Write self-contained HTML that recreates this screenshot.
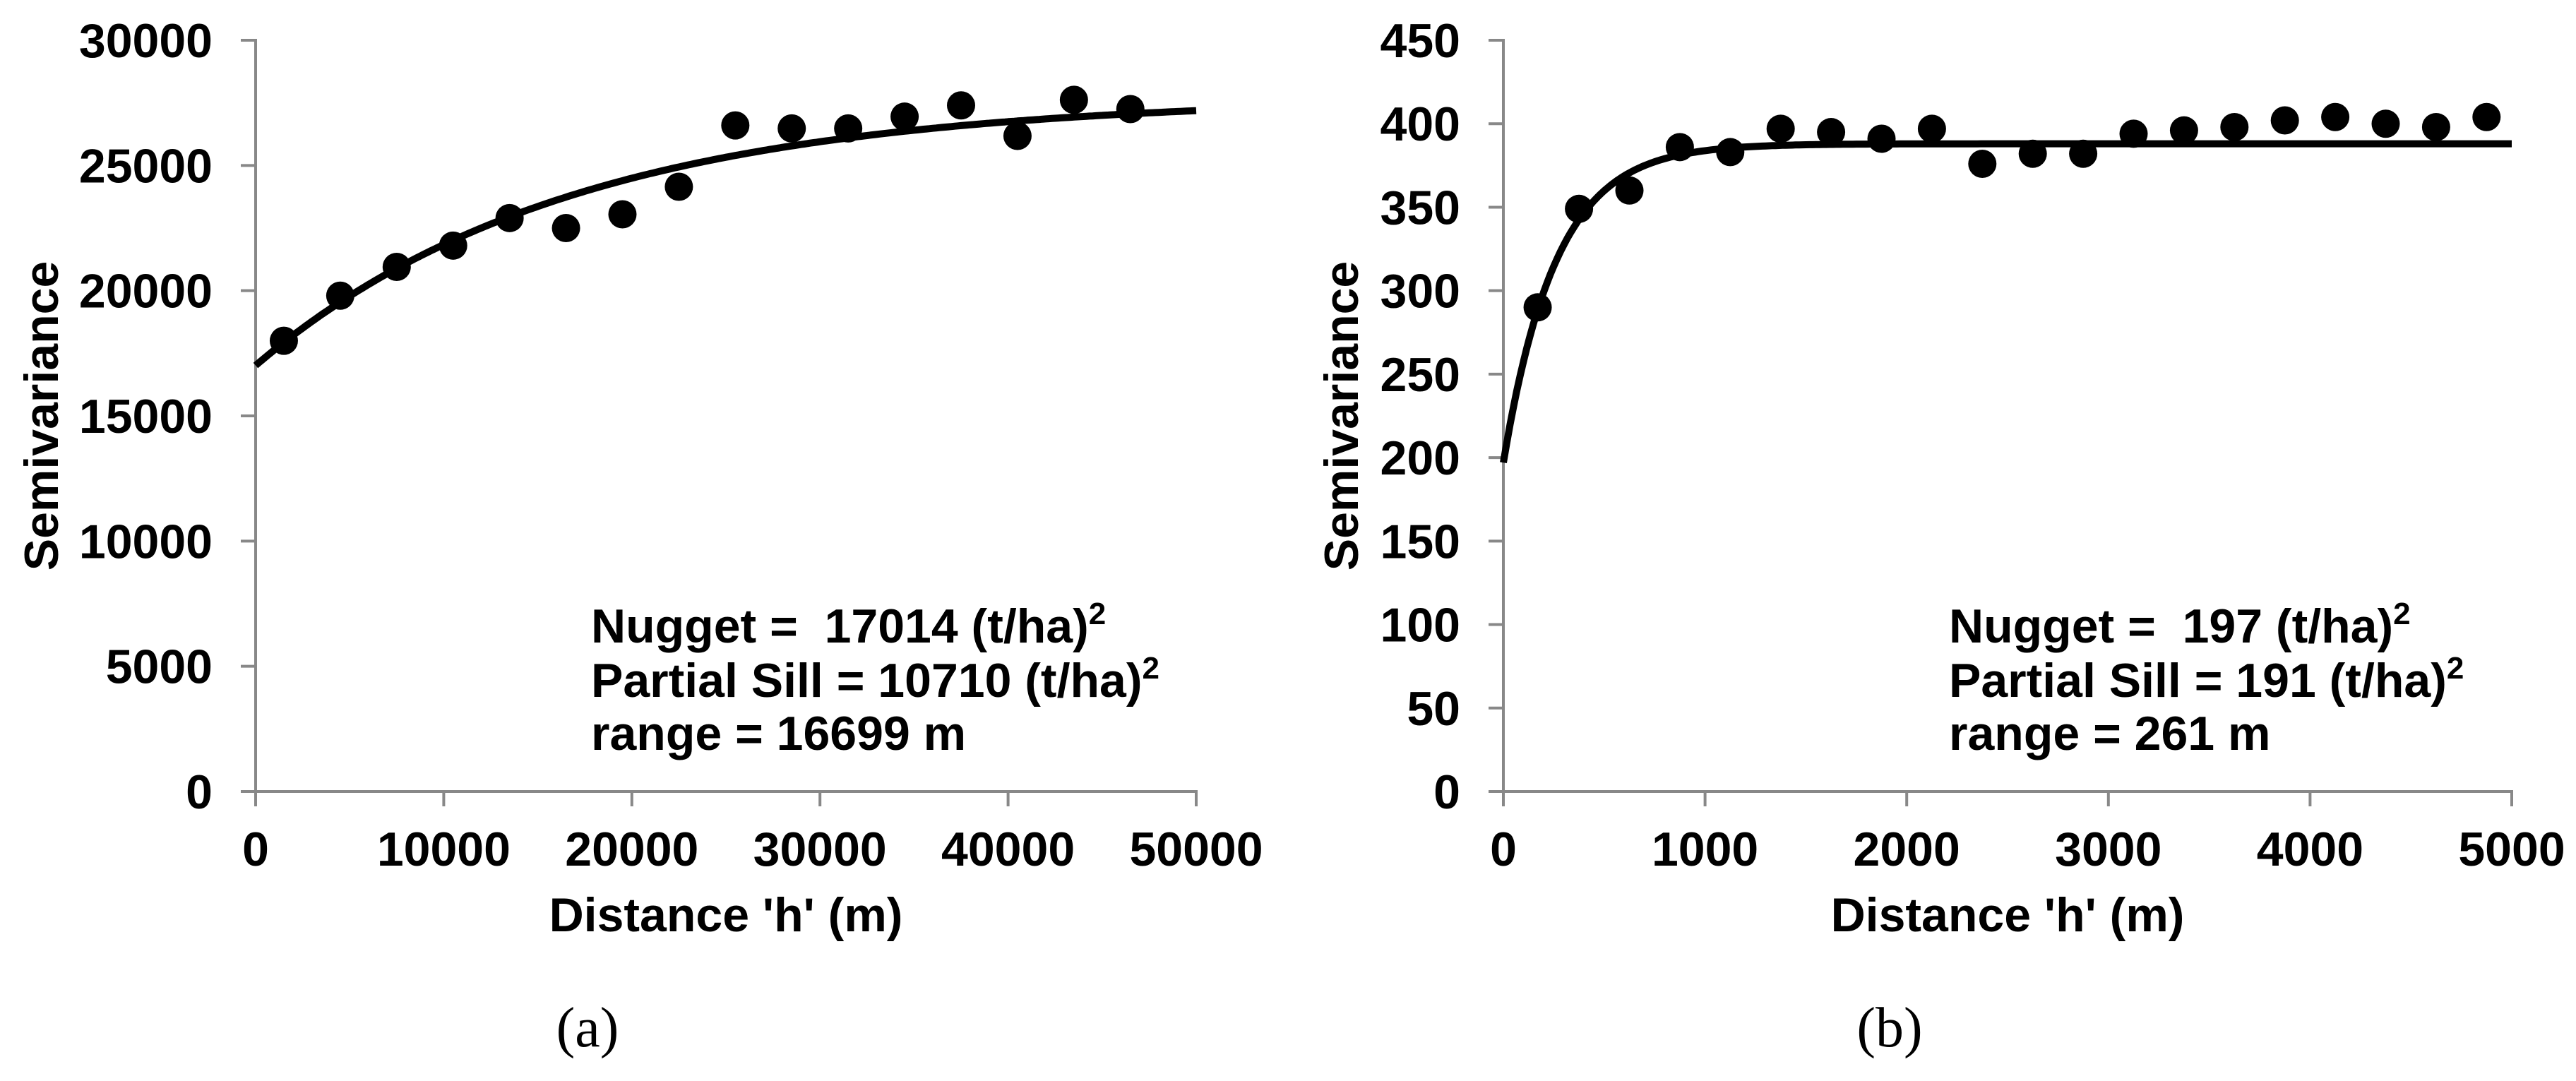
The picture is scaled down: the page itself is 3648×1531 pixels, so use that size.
<!DOCTYPE html>
<html>
<head>
<meta charset="utf-8">
<style>
  html,body{margin:0;padding:0;background:#fff;}
  svg{display:block;}
  text{font-family:"Liberation Sans",Arial,sans-serif;font-weight:bold;fill:#000;white-space:pre;}
  .serif{font-family:"Liberation Serif","Times New Roman",serif;font-weight:normal;}
</style>
</head>
<body>
<svg id="fig" width="3648" height="1531" viewBox="0 0 3648 1531" xmlns="http://www.w3.org/2000/svg">
  <rect x="0" y="0" width="3648" height="1531" fill="#fff"/>
</svg>
<script>
// ---- Chart (a) data ----
const aLags = [1500, 4500, 7500, 10500, 13500, 16500, 19500, 22500, 25500, 28500, 31500, 34500, 37500, 40500, 43500, 46500];
const aGamma = [18000, 19800, 20950, 21800, 22900, 22500, 23050, 24150, 26600, 26480, 26480, 26950, 27400, 26180, 27620, 27250];
const aYTicks = [0, 5000, 10000, 15000, 20000, 25000, 30000];
const aXTicks = [0, 10000, 20000, 30000, 40000, 50000];
const aModel = [17014, 10710, 16699]; // nugget, partial sill, range
// ---- Chart (b) data ----
const bLags = [170, 375, 625, 875, 1125, 1375, 1625, 1875, 2125, 2375, 2625, 2875, 3125, 3375, 3625, 3875, 4125, 4375, 4625, 4875];
const bGamma = [290, 349, 360, 386, 383, 397, 395, 391, 397, 376, 382, 382, 394, 396, 398, 402, 404, 400, 398, 404];
const bYTicks = [0, 50, 100, 150, 200, 250, 300, 350, 400, 450];
const bXTicks = [0, 1000, 2000, 3000, 4000, 5000];
const bModel = [197, 191, 261];

const NS = "http://www.w3.org/2000/svg";
const svg = document.getElementById("fig");
function mk(tag, attrs, parent) {
  const e = document.createElementNS(NS, tag);
  for (const k in attrs) e.setAttribute(k, attrs[k]);
  (parent || svg).appendChild(e);
  return e;
}

function drawChart(cfg) {
  const g = mk("g", {});
  
  
  const xMax = cfg.xTicks[cfg.xTicks.length - 1];
  const yMax = cfg.yTicks[cfg.yTicks.length - 1];
  const sx = v => cfg.x0 + (v / xMax) * (cfg.x1 - cfg.x0);
  const sy = v => cfg.y0 - (v / yMax) * (cfg.y0 - cfg.y1);
  const axisCol = "#888888";

  const ya = mk("line", {x1: cfg.x0, y1: cfg.y1 - 2, x2: cfg.x0, y2: cfg.y0 + 21, stroke: axisCol, "stroke-width": 4}, g);
  
  
  const xa = mk("line", {x1: cfg.x0 - 21, y1: cfg.y0, x2: cfg.x1 + 2, y2: cfg.y0, stroke: axisCol, "stroke-width": 4}, g);
  
  

  cfg.yTicks.forEach(v => {
    const y = sy(v);
    const t = mk("line", {x1: cfg.x0 - 21, y1: y, x2: cfg.x0, y2: y, stroke: axisCol, "stroke-width": 4}, g);
    
    
    const lb = mk("text", {x: cfg.x0 - 61, y: y + 24, "font-size": 68, "text-anchor": "end"}, g);
    lb.textContent = String(v);
    
    
  });
  cfg.xTicks.forEach(v => {
    const x = sx(v);
    const t = mk("line", {x1: x, y1: cfg.y0, x2: x, y2: cfg.y0 + 21, stroke: axisCol, "stroke-width": 4}, g);
    
    
    const lb = mk("text", {x: x, y: 1226, "font-size": 68, "text-anchor": "middle"}, g);
    lb.textContent = String(v);
    
    
  });

  const [c0, c, a] = cfg.model;
  let d = "";
  const N = 300;
  for (let i = 0; i <= N; i++) {
    const h = xMax * i / N;
    const gm = c0 + c * (1 - Math.exp(-h / a));
    d += (i ? "L" : "M") + sx(h).toFixed(1) + " " + sy(gm).toFixed(1);
  }
  const curve = mk("path", {d: d, fill: "none", stroke: "#000", "stroke-width": 10, "stroke-linejoin": "round"}, g);
  
  

  cfg.lags.forEach((h, i) => {
    const p = mk("circle", {cx: sx(h), cy: sy(cfg.gamma[i]), r: 20, fill: "#000"}, g);
    
    
  });

  const xt = mk("text", {x: (cfg.x0 + cfg.x1) / 2, y: 1319, "font-size": 68, "text-anchor": "middle"}, g);
  xt.textContent = "Distance 'h' (m)";
  
  
  const ytx = cfg.yTitleX, yty = (cfg.y0 + cfg.y1) / 2;
  const yt = mk("text", {x: ytx, y: yty, "font-size": 68, "text-anchor": "middle", transform: "rotate(-90 " + ytx + " " + yty + ")"}, g);
  yt.textContent = "Semivariance";
  
  

  const ys = [910, 987, 1062];
  cfg.annot.forEach((ln, i) => {
    const t = mk("text", {x: cfg.annX, y: ys[i], "font-size": 68}, g);
    
    
    const s1 = mk("tspan", {}, t);
    s1.textContent = ln[0];
    if (ln[1]) {
      const s2 = mk("tspan", {"font-size": 44, dy: -26}, t);
      s2.textContent = "2";
    }
  });

  const pl = mk("text", {x: cfg.labelX, y: 1482, "font-size": 80, "text-anchor": "middle", "class": "serif"}, g);
  pl.textContent = cfg.label;
  
  
}

drawChart({
  name: "chart-a", x0: 362, x1: 1694, y0: 1121, y1: 57,
  xTicks: aXTicks, yTicks: aYTicks, lags: aLags, gamma: aGamma, model: aModel,
  yTitleX: 82, annX: 837, labelX: 832, label: "(a)",
  annot: [["Nugget =\u00a0 17014 (t/ha)", true], ["Partial Sill = 10710 (t/ha)", true], ["range = 16699 m", false]]
});
drawChart({
  name: "chart-b", x0: 2129, x1: 3557, y0: 1121, y1: 57,
  xTicks: bXTicks, yTicks: bYTicks, lags: bLags, gamma: bGamma, model: bModel,
  yTitleX: 1923, annX: 2760, labelX: 2676, label: "(b)",
  annot: [["Nugget =\u00a0 197 (t/ha)", true], ["Partial Sill = 191 (t/ha)", true], ["range = 261 m", false]]
});
</script>
</body>
</html>
